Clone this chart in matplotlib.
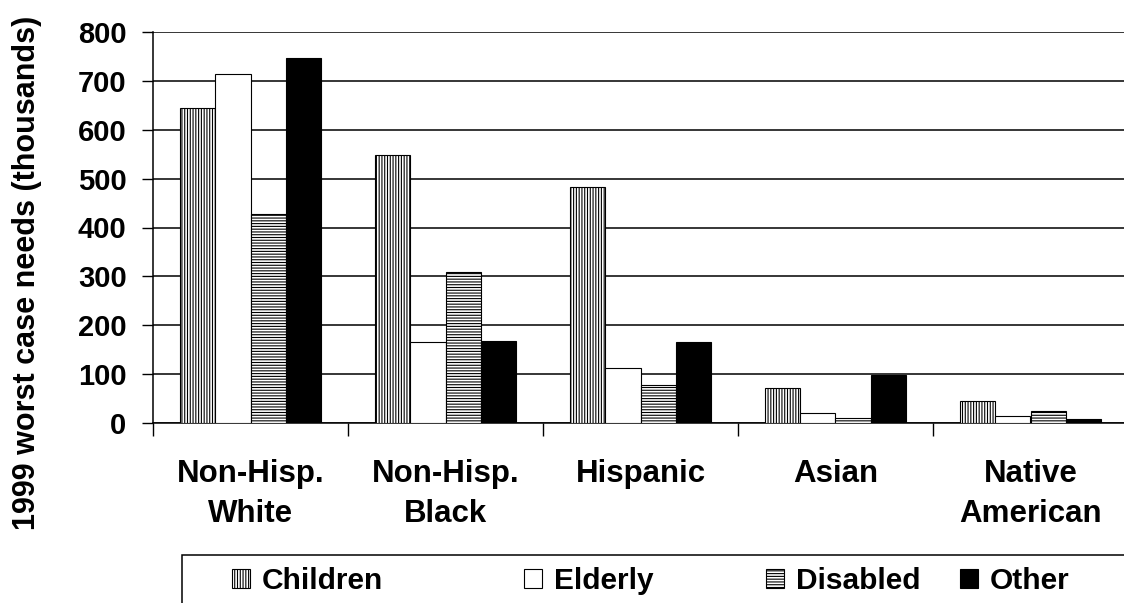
import numpy as np
import matplotlib.pyplot as plt
from matplotlib.patches import Rectangle

plt.rcParams['font.family'] = ['Liberation Sans', 'DejaVu Sans']
plt.rcParams['font.weight'] = 'bold'
plt.rcParams['hatch.linewidth'] = 0.8
plt.rcParams['hatch.color'] = 'black'

groups = ['Non-Hisp.\nWhite', 'Non-Hisp.\nBlack', 'Hispanic', 'Asian', 'Native\nAmerican']
children = [645, 549, 483, 72, 46]
elderly = [713, 167, 113, 21, 14]
disabled = [427, 310, 78, 11, 25]
other = [747, 168, 166, 98, 9]

series = [
    ('Children', children, 'white', '||||||'),
    ('Elderly', elderly, 'white', ''),
    ('Disabled', disabled, 'white', '------'),
    ('Other', other, 'black', ''),
]

W, H = 1124, 603
fig = plt.figure(figsize=(W / 100, H / 100), dpi=100)
ax = fig.add_axes([153 / W, (H - 423.3) / H, (1128 - 153) / W, (423.3 - 31.7) / H])

x = np.arange(len(groups))
bw = 0.182
bars = []
for i, (name, vals, color, hatch) in enumerate(series):
    b = ax.bar(x + (i - 1.5) * bw, vals, bw, color=color, edgecolor='black',
               linewidth=0.8, hatch=hatch, label=name, zorder=3)
    bars.append(b)

ax.set_ylim(0, 800)
ax.set_xlim(-0.5, len(groups) - 0.5)
ax.set_yticks(np.arange(0, 801, 100))
ax.yaxis.grid(True, color='black', linewidth=1.1, zorder=0)
ax.set_axisbelow(True)

ax.set_xticks(x)
ax.set_xticklabels(groups, fontsize=22.5, fontweight='bold', linespacing=1.4)
ax.set_xticks(np.arange(-0.5, len(groups)), minor=True)
ax.tick_params(axis='x', which='major', length=0, pad=26)
ax.tick_params(axis='x', which='minor', length=9, width=1, direction='out')
ax.tick_params(axis='y', length=8, width=1, direction='out', pad=11, labelsize=21)
for lab in ax.get_yticklabels():
    lab.set_fontweight('bold')

for side in ['top', 'right']:
    ax.spines[side].set_visible(False)
ax.spines['left'].set_linewidth(1.1)
ax.spines['bottom'].set_linewidth(1.1)

fig.text(27 / W, 1 - 273 / H, '1999 worst case needs (thousands)', rotation=90,
         ha='center', va='center', fontsize=22, fontweight='bold')

# legend box runs off the right and bottom edges
fig.patches.append(Rectangle((182 / W, -0.1), 1.0, 0.1 + (H - 555) / H,
                             transform=fig.transFigure, facecolor='white',
                             edgecolor='black', linewidth=1.1, zorder=0))

# one entry per legend so each can sit at its own spot along the row
entry_x = [232, 524, 766, 960]
for b, (name, _, _, _), ex in zip(bars, series, entry_x):
    fig.legend([b], [name], loc='center left', bbox_to_anchor=(ex / W, 1 - 581 / H),
               frameon=False, prop={'size': 21.5, 'weight': 'bold'},
               handlelength=0.6, handleheight=0.6, handletextpad=0.4,
               borderpad=0, borderaxespad=0)

fig.savefig('out.png', dpi=100)
